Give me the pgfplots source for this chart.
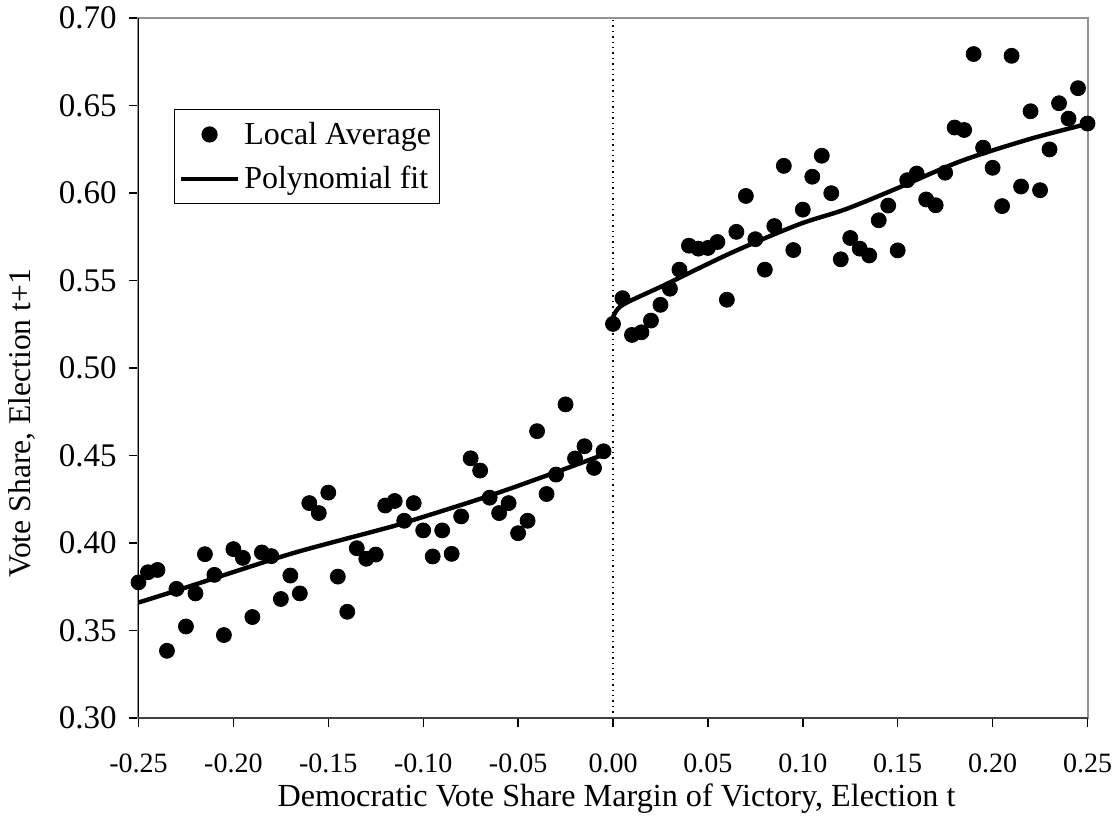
\documentclass[border=0pt]{standalone}
\usepackage{fontspec}
\setmainfont{Liberation Serif}
\usepackage{pgfplots}
\pgfplotsset{compat=1.18}
\pgfplotsset{
  dotlegend/.style={legend image code/.code={\draw[mark repeat=2,mark phase=2,##1] plot coordinates {(0pt,0pt)(14.25pt,0pt)(28.5pt,0pt)};}},
  linelegend/.style={legend image code/.code={\draw[##1] (0pt,0pt) -- (28.5pt,0pt);}},
}
\begin{document}
\begin{tikzpicture}
\begin{axis}[
  width=474.5pt, height=350pt, scale only axis,
  xmin=-0.25, xmax=0.25, ymin=0.30, ymax=0.70,
  xtick={-0.25,-0.20,-0.15,-0.10,-0.05,0,0.05,0.10,0.15,0.20,0.25},
  ytick={0.30,0.35,0.40,0.45,0.50,0.55,0.60,0.65,0.70},
  /pgf/number format/assume math mode=true,
  /pgf/number format/.cd, fixed, fixed zerofill, precision=2, /pgfplots/.cd,
  tick align=outside, xtick pos=bottom, ytick pos=left,
  major tick length=4.5pt,
  tick style={black, line width=0.7pt},
  axis line style={draw=gray!85, line width=1pt},
  xticklabel style={font=\fontsize{14}{16}\selectfont, anchor=base, inner sep=0pt, yshift=-22.5pt},
  yticklabel style={font=\fontsize{16.5}{18}\selectfont, anchor=east, inner sep=0pt, xshift=-6.25pt},
  xlabel={Democratic Vote Share Margin of Victory, Election t},
  ylabel={Vote Share, Election t+1},
  xlabel style={at={(rel axis cs:0.5037,0)}, anchor=base, yshift=-44pt, font=\fontsize{16.1}{18}\selectfont},
  ylabel style={at={(rel axis cs:-0.1133,0.421)}, anchor=base, font=\fontsize{15.8}{18}\selectfont},
  legend style={at={(rel axis cs:0.0377,0.8696)}, anchor=north west, draw=black, line width=0.6pt,
    font=\fontsize{16}{18}\selectfont, inner xsep=2pt, inner ysep=4pt, row sep=5.5pt, cells={anchor=west}},
  clip=false,
]
\coordinate (sw) at (rel axis cs:0,0);
\coordinate (ne) at (rel axis cs:1,1);
\draw[black, dotted, line width=0.7pt] (axis cs:0,0.30) -- (axis cs:0,0.70);
\draw[black, line width=0.9pt] (rel axis cs:0,0) -- (rel axis cs:0,1);
\draw[black!75, line width=1.3pt] (rel axis cs:0,0) -- (rel axis cs:1,0);

\addplot[only marks, mark=*, mark size=3.75pt, black, dotlegend]
coordinates {
(-0.250,0.3775) (-0.245,0.3833) (-0.240,0.3846) (-0.235,0.3384) (-0.230,0.3738)
(-0.225,0.3523) (-0.220,0.3712) (-0.215,0.3936) (-0.210,0.3818) (-0.205,0.3474)
(-0.200,0.3965) (-0.195,0.3915) (-0.190,0.3577) (-0.185,0.3946) (-0.180,0.3925)
(-0.175,0.3680) (-0.170,0.3814) (-0.165,0.3712) (-0.160,0.4228) (-0.155,0.4171)
(-0.150,0.4288) (-0.145,0.3808) (-0.140,0.3607) (-0.135,0.3970) (-0.130,0.3910)
(-0.125,0.3934) (-0.120,0.4214) (-0.115,0.4240) (-0.110,0.4127) (-0.105,0.4228)
(-0.100,0.4072) (-0.095,0.3923) (-0.090,0.4072) (-0.085,0.3938) (-0.080,0.4152)
(-0.075,0.4484) (-0.070,0.4414) (-0.065,0.4259) (-0.060,0.4171) (-0.055,0.4228)
(-0.050,0.4056) (-0.045,0.4127) (-0.040,0.4639) (-0.035,0.4280) (-0.030,0.4391)
(-0.025,0.4792) (-0.020,0.4483) (-0.015,0.4553) (-0.010,0.4429) (-0.005,0.4524)
(0.000,0.5252) (0.005,0.5399) (0.010,0.5189) (0.015,0.5204) (0.020,0.5271)
(0.025,0.5361) (0.030,0.5453) (0.035,0.5562) (0.040,0.5699) (0.045,0.5682)
(0.050,0.5686) (0.055,0.5720) (0.060,0.5390) (0.065,0.5778) (0.070,0.5983)
(0.075,0.5736) (0.080,0.5562) (0.085,0.5811) (0.090,0.6155) (0.095,0.5674)
(0.100,0.5905) (0.105,0.6093) (0.110,0.6213) (0.115,0.5999) (0.120,0.5621)
(0.125,0.5743) (0.130,0.5682) (0.135,0.5643) (0.140,0.5844) (0.145,0.5928)
(0.150,0.5672) (0.155,0.6073) (0.160,0.6111) (0.165,0.5963) (0.170,0.5930)
(0.175,0.6116) (0.180,0.6374) (0.185,0.6360) (0.190,0.6794) (0.195,0.6259)
(0.200,0.6144) (0.205,0.5925) (0.210,0.6784) (0.215,0.6037) (0.220,0.6467)
(0.225,0.6016) (0.230,0.6249) (0.235,0.6513) (0.240,0.6425) (0.245,0.6599)
(0.250,0.6397)
};
\addlegendentry{Local Average}

\addplot[black, line width=2.2pt, smooth, tension=0.5, no marks, linelegend]
coordinates {
(-0.250,0.3660) (-0.230,0.3728) (-0.202,0.3827) (-0.167,0.3947) (-0.123,0.4075)
(-0.111,0.4112) (-0.067,0.4263) (-0.032,0.4397) (-0.005,0.4505)
};
\addlegendentry{Polynomial fit}

\addplot[black, line width=2.2pt, smooth, tension=0.5, no marks, forget plot]
coordinates {
(0.000,0.5290) (0.005,0.5360) (0.0275,0.5476) (0.0625,0.5659) (0.0975,0.5819)
(0.122,0.5905) (0.148,0.6019) (0.183,0.6181) (0.2185,0.6305) (0.248,0.6390) (0.250,0.6395)
};
\end{axis}
\pgfresetboundingbox
\path ([shift={(-69.25pt,-52.5pt)}]sw) rectangle ([shift={(13.75pt,9pt)}]ne);
\end{tikzpicture}
\end{document}
